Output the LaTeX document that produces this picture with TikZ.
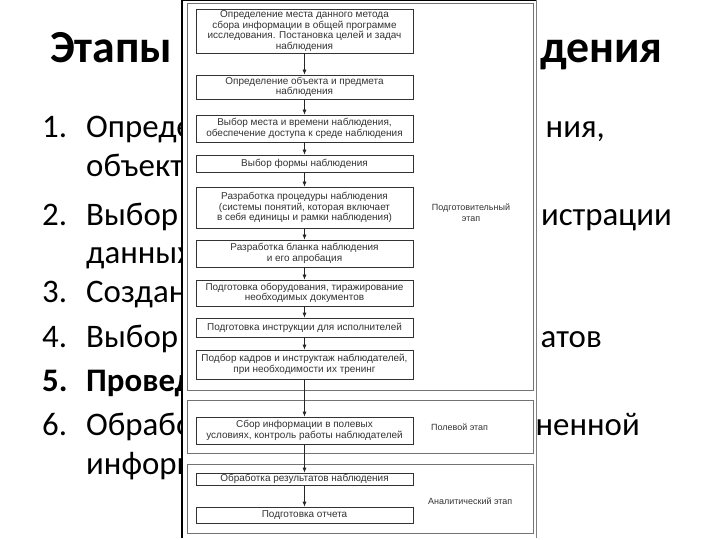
\documentclass[tikz,border=0pt]{standalone}
\usepackage{fontspec}
\setmainfont{Carlito}
\newfontfamily\scanfont{Liberation Sans}
\usetikzlibrary{arrows.meta}
\tikzset{
  slide/.style={font=\fontsize{33}{40}\selectfont, anchor=base west, inner sep=0pt, text=black},
  slideR/.style={slide, anchor=base east},
  titletext/.style={font=\bfseries\fontsize{46}{50}\selectfont, inner sep=0pt, text=black},
  stepbox/.style={draw=black!80, line width=0.7bp, minimum width=217bp, inner sep=0pt,
    font=\scanfont\fontsize{10}{10.6}\selectfont, align=center, text=black!80},
  stagelabel/.style={font=\scanfont\fontsize{9}{10.5}\selectfont, align=center, text=black!80, inner sep=0pt},
  groupbox/.style={draw=black!55, line width=0.8bp},
  arr/.style={draw=black!85, line width=0.7bp, -{Latex[length=5bp,width=4bp]}}
}
\begin{document}
\begin{tikzpicture}[x=1bp,y=-1bp]
\useasboundingbox (0,0) rectangle (720,540);
\fill[white] (0,0) rectangle (720,540);
% slide title and list (partly covered)
\node[titletext, anchor=base west] (t1) at (50,63) {Этапы};
\node[titletext, anchor=base east] (t2) at (663,63) {дения};
\node[slide] (n1) at (42,138) {1.};
\node[slide] (i1) at (86,138) {Опреде};
\node[slideR] (i1r) at (605,138) {ния,};
\node[slide] (i1b) at (86,177) {объекта};
\node[slide] (n2) at (42,226) {2.};
\node[slide] (i2) at (86,226) {Выбор с};
\node[slideR] (i2r) at (672,226) {истрации};
\node[slide] (i2b) at (86,264) {данных};
\node[slide] (n3) at (42,302) {3.};
\node[slide] (i3) at (86,302) {Создан};
\node[slide] (n4) at (42,347) {4.};
\node[slide] (i4) at (86,347) {Выбор д};
\node[slideR] (i4r) at (602,347) {атов};
\node[slide, font=\bfseries\fontsize{33}{40}\selectfont] (n5) at (42,391) {5.};
\node[slide, font=\bfseries\fontsize{33}{40}\selectfont] (i5) at (86,391) {Провед};
\node[slide] (n6) at (42,435) {6.};
\node[slide] (i6) at (86,435) {Обрабо};
\node[slideR] (i6r) at (640,435) {ненной};
\node[slide] (i6b) at (86,474) {информ};
% scanned picture overlay
\fill[white] (182,0) rectangle (536,538);
\draw[black, line width=2.5bp] (182,538) -- (182,0);
\draw[black, line width=1.5bp] (182,0.75) -- (536,0.75);
\draw[black!50, line width=0.6bp] (536,0) -- (536,538);
% stage groups
\draw[groupbox] (187,3) rectangle (533,390);
\draw[groupbox] (187,400) rectangle (533,453);
\draw[groupbox] (187,464) rectangle (533,533);
% steps
\node[stepbox, minimum height=44bp] (b1) at (304.5,31) {Определение места данного метода\\сбора информации в общей программе\\исследования. Постановка целей и задач\\наблюдения};
\node[stepbox, minimum height=24bp] (b2) at (304.5,87) {Определение объекта и предмета\\наблюдения};
\node[stepbox, minimum height=27bp] (b3) at (304.5,128.5) {Выбор места и времени наблюдения,\\обеспечение доступа к среде наблюдения};
\node[stepbox, minimum height=17bp] (b4) at (304.5,163.5) {Выбор формы наблюдения};
\node[stepbox, minimum height=41bp] (b5) at (304.5,207.5) {Разработка процедуры наблюдения\\(системы понятий, которая включает\\в себя единицы и рамки наблюдения)};
\node[stepbox, minimum height=27bp] (b6) at (304.5,253.5) {Разработка бланка наблюдения\\и его апробация};
\node[stepbox, minimum height=26bp] (b7) at (304.5,293) {Подготовка оборудования, тиражирование\\необходимых документов};
\node[stepbox, minimum height=19bp] (b8) at (304.5,327.5) {Подготовка инструкции для исполнителей};
\node[stepbox, minimum height=29bp] (b9) at (304.5,364.5) {Подбор кадров и инструктаж наблюдателей,\\при необходимости их тренинг};
\node[stepbox, minimum height=27bp] (b10) at (304.5,430.5) {Сбор информации в полевых\\условиях, контроль работы наблюдателей};
\node[stepbox, minimum height=12bp] (b11) at (304.5,479) {Обработка результатов наблюдения};
\node[stepbox, minimum height=16bp] (b12) at (304.5,515) {Подготовка отчета};
% stage labels
\node[stagelabel] (s1) at (471,212.5) {Подготовительный\\этап};
\node[stagelabel, anchor=west] (s2) at (431,427) {Полевой этап};
\node[stagelabel, anchor=west] (s3) at (428,501) {Аналитический этап};
% arrows
\draw[arr] (b1) -- (b2);
\draw[arr] (b2) -- (b3);
\draw[arr] (b3) -- (b4);
\draw[arr] (b4) -- (b5);
\draw[arr] (b5) -- (b6);
\draw[arr] (b6) -- (b7);
\draw[arr] (b7) -- (b8);
\draw[arr] (b8) -- (b9);
\draw[arr] (b9) -- (b10);
\draw[arr] (b10) -- (b11);
\draw[arr] (b11) -- (b12);
\end{tikzpicture}
\end{document}
